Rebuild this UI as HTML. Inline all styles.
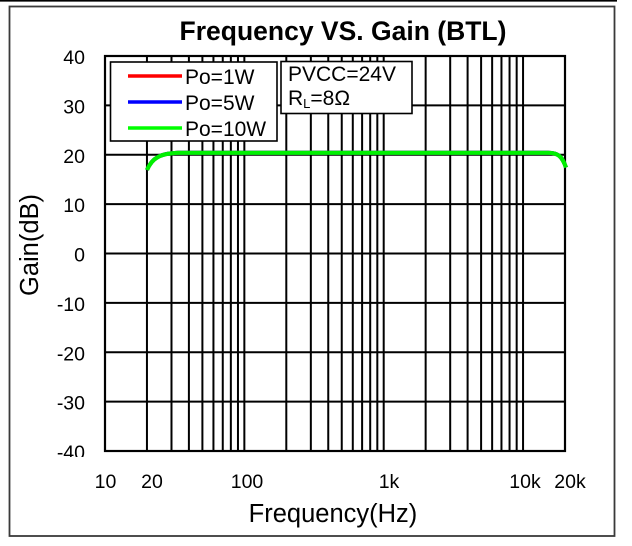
<!DOCTYPE html>
<html>
<head>
<meta charset="utf-8">
<style>
  html, body { margin: 0; padding: 0; background: #fff; }
  svg { display: block; }
  text { font-family: "Liberation Sans", Arial, sans-serif; fill: #000; }
</style>
</head>
<body>
<svg width="632" height="546" viewBox="0 0 632 546" xmlns="http://www.w3.org/2000/svg">
  <rect x="0" y="0" width="632" height="546" fill="#fff"/>
  <!-- top line -->
  <line x1="0" y1="0.8" x2="617" y2="0.8" stroke="#000" stroke-width="1.6"/>
  <!-- outer frame -->
  <rect x="9.5" y="6.5" width="605" height="529.5" fill="none" stroke="#3a3a3a" stroke-width="1.8"/>

  <!-- title -->
  <text x="343" y="40" font-size="26.5" font-weight="bold" text-anchor="middle">Frequency VS. Gain (BTL)</text>

  <!-- horizontal grid lines -->
  <g stroke="#000" stroke-width="2">
    <line x1="105" y1="105.4" x2="565" y2="105.4"/>
    <line x1="105" y1="154.75" x2="565" y2="154.75"/>
    <line x1="105" y1="204.1" x2="565" y2="204.1"/>
    <line x1="105" y1="253.5" x2="565" y2="253.5"/>
    <line x1="105" y1="302.9" x2="565" y2="302.9"/>
    <line x1="105" y1="352.25" x2="565" y2="352.25"/>
    <line x1="105" y1="401.6" x2="565" y2="401.6"/>
  </g>
  <!-- vertical grid lines -->
  <g stroke="#000" stroke-width="2">
    <line x1="146.95" y1="56" x2="146.95" y2="451"/>
    <line x1="171.49" y1="56" x2="171.49" y2="451"/>
    <line x1="188.90" y1="56" x2="188.90" y2="451"/>
    <line x1="202.40" y1="56" x2="202.40" y2="451"/>
    <line x1="213.44" y1="56" x2="213.44" y2="451"/>
    <line x1="222.76" y1="56" x2="222.76" y2="451"/>
    <line x1="230.85" y1="56" x2="230.85" y2="451"/>
    <line x1="237.97" y1="56" x2="237.97" y2="451"/>
    <line x1="244.35" y1="56" x2="244.35" y2="451"/>
    <line x1="286.30" y1="56" x2="286.30" y2="451"/>
    <line x1="310.84" y1="56" x2="310.84" y2="451"/>
    <line x1="328.25" y1="56" x2="328.25" y2="451"/>
    <line x1="341.75" y1="56" x2="341.75" y2="451"/>
    <line x1="352.79" y1="56" x2="352.79" y2="451"/>
    <line x1="362.11" y1="56" x2="362.11" y2="451"/>
    <line x1="370.20" y1="56" x2="370.20" y2="451"/>
    <line x1="377.32" y1="56" x2="377.32" y2="451"/>
    <line x1="383.70" y1="56" x2="383.70" y2="451"/>
    <line x1="425.65" y1="56" x2="425.65" y2="451"/>
    <line x1="450.19" y1="56" x2="450.19" y2="451"/>
    <line x1="467.60" y1="56" x2="467.60" y2="451"/>
    <line x1="481.10" y1="56" x2="481.10" y2="451"/>
    <line x1="492.14" y1="56" x2="492.14" y2="451"/>
    <line x1="501.46" y1="56" x2="501.46" y2="451"/>
    <line x1="509.55" y1="56" x2="509.55" y2="451"/>
    <line x1="516.67" y1="56" x2="516.67" y2="451"/>
    <line x1="523.05" y1="56" x2="523.05" y2="451"/>
  </g>
  <!-- plot border -->
  <rect x="105" y="56" width="460" height="395" fill="none" stroke="#000" stroke-width="2.2"/>

  <!-- curves (red & blue hidden under green) -->
  <path d="M147,170 C152,158 160,153.5 178,152.8 L548,152.8 C558,152.8 562,156 566,167.5" fill="none" stroke="#ff0000" stroke-width="4"/>
  <path d="M147,170 C152,158 160,153.5 178,152.8 L548,152.8 C558,152.8 562,156 566,167.5" fill="none" stroke="#0000ff" stroke-width="4"/>
  <path d="M147,170 C152,158 160,153.5 178,152.8 L548,152.8 C558,152.8 562,156 566,167.5" fill="none" stroke="#00f000" stroke-width="4.2"/>

  <!-- legend -->
  <rect x="110.5" y="62" width="166.5" height="79" fill="#fff" stroke="#000" stroke-width="1.6"/>
  <line x1="128" y1="76" x2="182" y2="76" stroke="#ff0000" stroke-width="3.5"/>
  <line x1="128" y1="102" x2="182" y2="102" stroke="#0000ff" stroke-width="3.5"/>
  <line x1="128" y1="128" x2="182" y2="128" stroke="#00ff00" stroke-width="3.5"/>
  <text x="185" y="84" font-size="21">Po=1W</text>
  <text x="185" y="110" font-size="21">Po=5W</text>
  <text x="185" y="136" font-size="21">Po=10W</text>

  <!-- condition box -->
  <rect x="281" y="61.5" width="131" height="52" fill="#fff" stroke="#000" stroke-width="1.6"/>
  <text x="288" y="81" font-size="21">PVCC=24V</text>
  <text x="288" y="105" font-size="21">R<tspan font-size="13" dy="3">L</tspan><tspan dy="-3">=8Ω</tspan></text>

  <!-- y tick labels -->
  <defs>
    <clipPath id="clipY"><rect x="0" y="0" width="100" height="457"/></clipPath>
  </defs>
  <g font-size="19.5" text-anchor="end" clip-path="url(#clipY)">
    <text x="85" y="64">40</text>
    <text x="85" y="113.4">30</text>
    <text x="85" y="162.8">20</text>
    <text x="85" y="212.1">10</text>
    <text x="85" y="261.5">0</text>
    <text x="85" y="310.9">-10</text>
    <text x="85" y="360.3">-20</text>
    <text x="85" y="409.6">-30</text>
    <text x="85" y="459">-40</text>
  </g>

  <!-- x tick labels -->
  <g font-size="19.5" text-anchor="middle">
    <text x="105.5" y="488">10</text>
    <text x="152" y="488">20</text>
    <text x="247" y="488">100</text>
    <text x="389" y="488">1k</text>
    <text x="525" y="488">10k</text>
    <text x="570" y="488">20k</text>
  </g>

  <!-- axis labels -->
  <text x="333" y="522" font-size="25.5" text-anchor="middle">Frequency(Hz)</text>
  <text transform="translate(38,245) rotate(-90)" font-size="25.5" text-anchor="middle">Gain(dB)</text>
</svg>
</body>
</html>
